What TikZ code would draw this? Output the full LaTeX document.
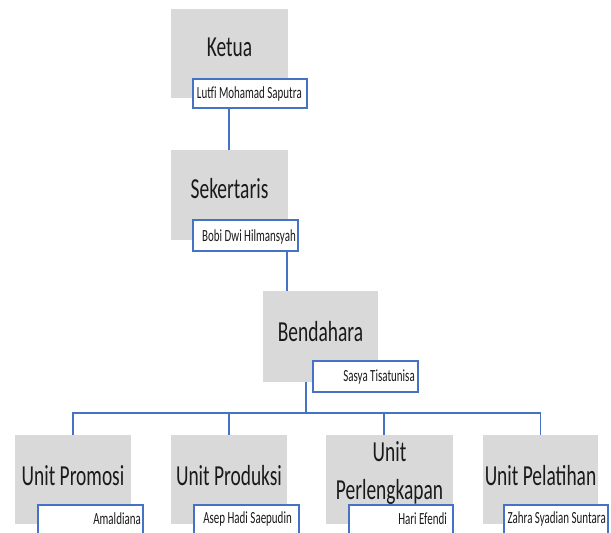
\documentclass[tikz,border=0pt]{standalone}
\usepackage{fontspec}
\setmainfont{Carlito}
\newfontfamily\mainf{Carlito}[FakeStretch=0.67]
\newfontfamily\namef{Carlito}[FakeStretch=0.645]
\usetikzlibrary{positioning,calc}
\definecolor{lineblue}{HTML}{4472C4}
\definecolor{boxgray}{HTML}{D9D9D9}
\definecolor{txt}{HTML}{1A1A1A}
\tikzset{
  rolebox/.style={fill=boxgray,draw=none,inner sep=0pt},
  roletext/.style={text=txt,font=\mainf\fontsize{29}{38}\selectfont,align=center,inner sep=0pt},
  namebox/.style={fill=white,draw=lineblue,line width=1.6pt,inner sep=0pt},
  nametext/.style={text=txt,font=\namef\fontsize{17}{18}\selectfont,anchor=east,inner sep=0pt},
  conn/.style={draw=lineblue,line width=1.3pt}
}
\begin{document}
\begin{tikzpicture}[x=1pt,y=-1pt]
\useasboundingbox (0,0) rectangle (611,533);
% role boxes
\node[rolebox,minimum width=117pt,minimum height=89pt] (ketua) at (229.5,53.5) {};
\node[rolebox,minimum width=117pt,minimum height=90pt] (sek) at (229.5,195) {};
\node[rolebox,minimum width=115pt,minimum height=91pt] (bend) at (320.5,336.5) {};
\node[rolebox,minimum width=116pt,minimum height=89pt] (promo) at (73,479.5) {};
\node[rolebox,minimum width=116pt,minimum height=89pt] (prod) at (229,479.5) {};
\node[rolebox,minimum width=127pt,minimum height=89pt] (perl) at (389.5,479.5) {};
\node[rolebox,minimum width=115pt,minimum height=89pt] (pel) at (540.5,479.5) {};
% connectors
\coordinate (ks) at (229,98);
\coordinate (sb) at (287,251);
\coordinate (bus) at (306,413);
\coordinate (perldrop) at (384,435);
\draw[conn] (ks) -- (ks |- sek.north);
\draw[conn] (sb) -- (sb |- bend.north);
\draw[conn] (bus |- bend.south) -- (bus);
\draw[conn] (promo.north) -- (promo.north |- bus) -- (pel.north |- bus) -- (pel.north);
\draw[conn] (prod.north |- bus) -- (prod.north);
\draw[conn] (perldrop |- bus) -- (perldrop);
% role labels
\node[roletext] (ketuat) at (229.5,47) {Ketua};
\node[roletext] (sekt) at (229.5,189) {Sekertaris};
\node[roletext] (bendt) at (320.5,332) {Bendahara};
\node[roletext] (promot) at (73,476) {Unit Promosi};
\node[roletext] (prodt) at (229,476) {Unit Produksi};
\node[roletext] (perlt) at (389.5,473) {Unit\\Perlengkapan};
\node[roletext] (pelt) at (540.5,476) {Unit Pelatihan};
% name boxes
\node[namebox,minimum width=114pt,minimum height=29pt] (ketuan) at (250,93.5) {};
\node[namebox,minimum width=105pt,minimum height=31pt] (sekn) at (245.5,235.5) {};
\node[namebox,minimum width=105pt,minimum height=31pt] (bendn) at (365.5,376.5) {};
\node[namebox,minimum width=105pt,minimum height=40pt] (promon) at (90.5,525) {};
\node[namebox,minimum width=105pt,minimum height=40pt] (prodn) at (246.5,525) {};
\node[namebox,minimum width=104pt,minimum height=40pt] (perln) at (401,525) {};
\node[namebox,minimum width=104pt,minimum height=40pt] (peln) at (556,525) {};
% names
\node[nametext] at (302,93.5) {Lutfi Mohamad Saputra};
\node[nametext] at (296,237) {Bobi Dwi Hilmansyah};
\node[nametext] at (415,377.5) {Sasya Tisatunisa};
\node[nametext] at (141,518.5) {Amaldiana};
\node[nametext] at (292,518.5) {Asep Hadi Saepudin};
\node[nametext] at (447,518.5) {Hari Efendi};
\node[nametext] at (606,518.5) {Zahra Syadian Suntara};
\end{tikzpicture}
\end{document}
